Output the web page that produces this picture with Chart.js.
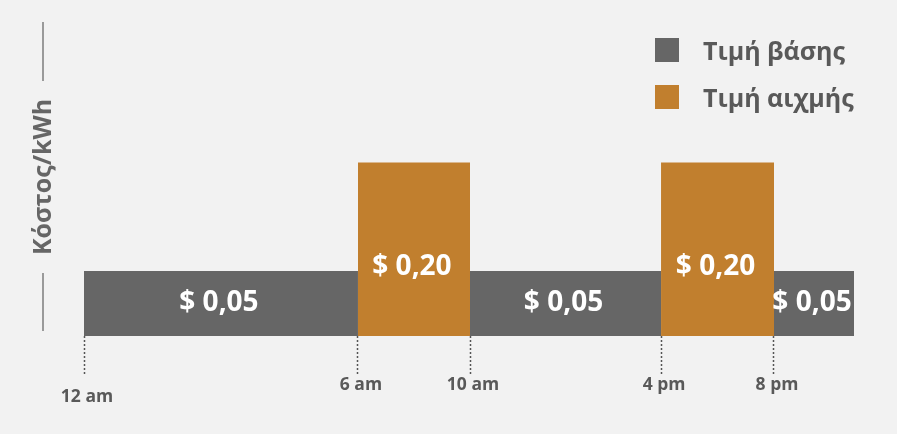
<!DOCTYPE html>
<html>
<head>
<meta charset="utf-8">
<script src="https://cdn.jsdelivr.net/npm/chart.js@4.4.1/dist/chart.umd.min.js"></script>
<style>
  html, body { margin: 0; padding: 0; background: #f2f2f2; }
  #caja { position: relative; width: 897px; height: 434px; }
  #leyenda {
    position: absolute; left: 655px; top: 38px;
    font-family: "Open Sans", sans-serif; font-weight: bold; font-size: 25px; color: #595959;
  }
  .item { display: flex; align-items: center; height: 24px; margin-bottom: 23px; }
  .cuadro { width: 24px; height: 24px; margin-right: 24px; }
</style>
</head>
<body>
<div id="caja">
  <canvas id="grafico"></canvas>
  <div id="leyenda"></div>
</div>
<script>
// limites de cada tramo (horas del dia)
var horas = [0, 6, 10, 16, 20, 24];
var etiquetasHora = ["12 am", "6 am", "10 am", "4 pm", "8 pm"];
// precio por tramo, null = no aplica
var precioBase = [0.05, null, 0.05, null, 0.05];
var precioPico = [null, 0.2, null, 0.2, null];
var nombresSeries = ["Τιμή βάσης", "Τιμή αιχμής"];
var colores = ["#666666", "#c17f2e"];

// el eje horizontal del dibujo no es proporcional: cada limite tiene su fraccion del ancho
class EscalaTramos extends Chart.LinearScale {
  getPixelForValue(valor) {
    return this.getPixelForDecimal(interpolar(valor, this.options.valores, this.options.fracciones));
  }
  getValueForPixel(pixel) {
    return interpolar(this.getDecimalForPixel(pixel), this.options.fracciones, this.options.valores);
  }
}
EscalaTramos.id = "tramos";
EscalaTramos.defaults = Chart.LinearScale.defaults;
Chart.register(EscalaTramos);

function interpolar(v, desde, hacia) {
  for (var i = 0; i < desde.length - 1; i++) {
    if (v <= desde[i + 1] || i === desde.length - 2) {
      var t = (v - desde[i]) / (desde[i + 1] - desde[i]);
      return hacia[i] + t * (hacia[i + 1] - hacia[i]);
    }
  }
  return hacia[0];
}

function puntosSerie(precios) {
  var puntos = [];
  precios.forEach(function (p, i) {
    if (p === null) {
      puntos.push({ x: horas[i], y: null });
      return;
    }
    puntos.push({ x: horas[i], y: p });
    puntos.push({ x: horas[i + 1], y: p });
  });
  return puntos;
}

var tituloPad = 29;
var tituloFuente = 25;

var etiquetasValores = {
  id: "etiquetasValores",
  afterDatasetsDraw: function (chart) {
    var ctx = chart.ctx, xs = chart.scales.x, ys = chart.scales.y;
    ctx.save();
    ctx.font = "bold 28px 'Open Sans'";
    ctx.fillStyle = "#ffffff";
    ctx.textAlign = "center";
    ctx.textBaseline = "middle";
    [precioBase, precioPico].forEach(function (serie, s) {
      serie.forEach(function (p, i) {
        if (p === null) return;
        var x = (xs.getPixelForValue(horas[i]) + xs.getPixelForValue(horas[i + 1])) / 2;
        var tope = ys.getPixelForValue(p);
        var y = tope + (ys.bottom - tope) * (s === 0 ? 0.5 : 0.6);
        ctx.fillText("$ " + p.toFixed(2).replace(".", ","), x - 2, y);
      });
    });
    ctx.restore();
  }
};

var lineasTitulo = {
  id: "lineasTitulo",
  afterDraw: function (chart) {
    var ctx = chart.ctx, ys = chart.scales.y;
    ctx.save();
    ctx.font = "bold " + tituloFuente + "px 'Open Sans'";
    var ancho = ctx.measureText(ys.options.title.text).width;
    var x = ys.left + tituloPad + tituloFuente * 1.2 / 2 - 1;
    var centro = (ys.top + ys.bottom) / 2;
    ctx.strokeStyle = "#9a9a9a";
    ctx.lineWidth = 2;
    ctx.beginPath();
    ctx.moveTo(x, ys.top + 4);
    ctx.lineTo(x, centro - ancho / 2 - 18);
    ctx.moveTo(x, centro + ancho / 2 + 18);
    ctx.lineTo(x, ys.bottom - 5);
    ctx.stroke();
    ctx.restore();
  }
};

window.onload = function () {
  var leyenda = document.getElementById("leyenda");
  nombresSeries.forEach(function (nombre, i) {
    leyenda.innerHTML += `<div class="item"><span class="cuadro" style="background:${colores[i]}"></span>${nombre}</div>`;
  });

  const ctx = document.getElementById("grafico");
  window.graficoTarifa = new Chart(ctx, {
    type: "line",
    data: {
      datasets: [
        {
          label: nombresSeries[0],
          data: puntosSerie(precioBase),
          backgroundColor: colores[0],
          borderColor: "transparent",
          pointRadius: 0,
          fill: "start",
        },
        {
          label: nombresSeries[1],
          data: puntosSerie(precioPico),
          backgroundColor: colores[1],
          borderColor: "transparent",
          pointRadius: 0,
          fill: "start",
        },
      ],
    },
    options: {
      responsive: true,
      maintainAspectRatio: false,
      animation: false,
      layout: { padding: { top: 18, right: 43, bottom: 0, left: 0 } },
      plugins: { legend: { display: false }, tooltip: { enabled: false } },
      scales: {
        x: {
          type: "tramos",
          min: 0,
          max: 24,
          valores: horas,
          fracciones: [0, 0.3558, 0.5013, 0.7494, 0.8961, 1],
          afterBuildTicks: function (s) {
            s.ticks = horas.slice(0, etiquetasHora.length).map(function (h) { return { value: h }; });
          },
          afterFit: function (s) { s.height = 98; },
          border: { display: false },
          grid: {
            drawOnChartArea: false,
            tickLength: 40,
            tickColor: "#555555",
            tickWidth: 1.5,
            tickBorderDash: [2, 2],
          },
          ticks: {
            autoSkip: false,
            maxRotation: 0,
            padding: 3,
            labelOffset: 3,
            color: "#595959",
            font: { family: "Open Sans", weight: "bold", size: 17.5, lineHeight: 0.69 },
            callback: function (v, i) {
              return i === 0 ? ["", etiquetasHora[i]] : etiquetasHora[i];
            },
          },
        },
        y: {
          min: -0.04,
          max: 0.4,
          afterFit: function (s) { s.width = 84; },
          border: { display: false },
          grid: { display: false },
          ticks: { display: false },
          title: {
            display: true,
            text: "Κόστος/kWh",
            color: "#666666",
            padding: { top: tituloPad, bottom: 0 },
            font: { family: "Open Sans", weight: "bold", size: tituloFuente, lineHeight: 1.2 },
          },
        },
      },
    },
    plugins: [etiquetasValores, lineasTitulo],
  });
};
</script>
</body>
</html>
